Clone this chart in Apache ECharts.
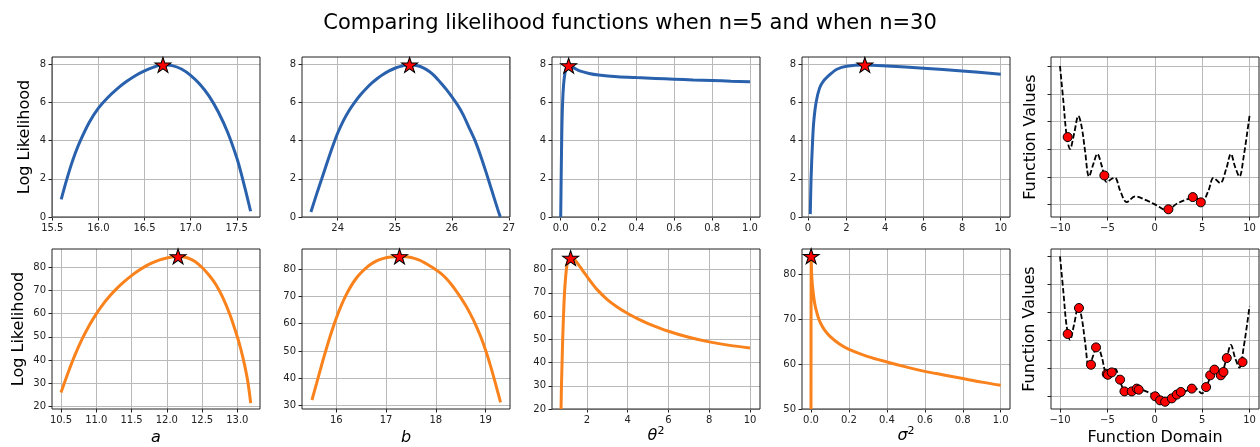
<!DOCTYPE html>
<html><head><meta charset="utf-8">
<script src="https://cdn.jsdelivr.net/npm/echarts@6/dist/echarts.min.js"></script>
<style>html,body{margin:0;padding:0;background:#fff}#c{width:1260px;height:447px}</style>
</head><body><div id="c"></div>
<script>
// ---------- data ----------
const titleText = 'Comparing likelihood functions when n=5 and when n=30';

// n = 5 log-likelihood curves  [parameter, logL]
const aN5 = [[15.597,0.92],[15.65,1.85],[15.70,2.65],[15.75,3.35],[15.80,3.95],[15.90,4.95],[16.0,5.7],[16.1,6.25],[16.2,6.7],[16.3,7.08],[16.4,7.4],[16.5,7.65],[16.6,7.85],[16.70,7.97],[16.8,7.93],[16.9,7.75],[17.0,7.42],[17.1,6.95],[17.2,6.33],[17.3,5.5],[17.4,4.45],[17.5,3.1],[17.55,2.25],[17.6,1.3],[17.65,0.3]];
const bN5 = [[23.53,0.26],[23.65,1.38],[23.72,2.0],[23.8,2.72],[23.9,3.6],[24.0,4.4],[24.1,5.05],[24.2,5.58],[24.3,6.02],[24.4,6.4],[24.5,6.73],[24.6,7.02],[24.7,7.27],[24.8,7.48],[24.9,7.65],[25.0,7.79],[25.1,7.89],[25.26,7.97],[25.4,7.92],[25.5,7.81],[25.6,7.63],[25.7,7.38],[25.8,7.05],[25.9,6.7],[26.0,6.3],[26.1,5.87],[26.2,5.35],[26.3,4.7],[26.4,4.05],[26.5,3.25],[26.6,2.35],[26.7,1.4],[26.8,0.45],[26.85,0.0]];
const thetaN5 = [[0.0,0.0],[0.003,2.5],[0.006,4.5],[0.010,6.0],[0.015,6.9],[0.022,7.5],[0.030,7.8],[0.042,7.93],[0.06,7.86],[0.08,7.75],[0.10,7.65],[0.15,7.52],[0.2,7.44],[0.3,7.35],[0.4,7.3],[0.5,7.26],[0.6,7.22],[0.7,7.18],[0.8,7.15],[0.9,7.11],[1.0,7.08]];
const sigmaN5 = [[0.12,0.15],[0.16,2.0],[0.24,4.0],[0.3,5.0],[0.42,6.0],[0.6,6.75],[0.81,7.13],[1.16,7.48],[1.5,7.74],[2.0,7.9],[2.95,7.96],[4.1,7.91],[6.0,7.79],[8.0,7.65],[10.0,7.48]];

// n = 30 log-likelihood curves
const aN30 = [[10.5,26.0],[10.6,34.5],[10.7,42.3],[10.8,49.1],[10.9,54.9],[11.0,59.9],[11.1,64.2],[11.2,67.9],[11.3,71.1],[11.4,73.9],[11.5,76.4],[11.6,78.6],[11.7,80.5],[11.8,82.0],[11.9,83.2],[12.0,84.0],[12.1,84.55],[12.16,84.7],[12.2,84.65],[12.3,84.0],[12.4,82.5],[12.5,79.9],[12.6,76.6],[12.7,72.4],[12.8,66.6],[12.9,59.2],[13.0,50.0],[13.05,44.7],[13.1,38.3],[13.15,30.5],[13.19,21.4]];
const bN30 = [[15.51,32.1],[15.6,38.0],[15.7,44.6],[15.8,50.9],[15.9,56.8],[16.0,62.1],[16.1,66.7],[16.2,70.6],[16.3,73.9],[16.4,76.6],[16.5,78.7],[16.6,80.4],[16.7,81.8],[16.8,82.9],[16.9,83.6],[17.0,84.1],[17.1,84.4],[17.27,84.6],[17.4,84.5],[17.5,84.2],[17.6,83.7],[17.7,83.0],[17.8,82.0],[17.9,80.9],[18.0,79.7],[18.1,78.4],[18.2,76.7],[18.3,74.6],[18.4,72.2],[18.5,69.5],[18.6,66.6],[18.7,63.3],[18.8,59.6],[18.9,55.3],[19.0,50.3],[19.1,44.5],[19.2,38.0],[19.3,31.2]];
const thetaN30 = [[0.73,20],[0.75,30],[0.78,40],[0.81,50],[0.85,60],[0.9,70],[0.99,80],[1.08,84],[1.2,85],[1.4,84.2],[1.6,82],[1.8,79.5],[2.0,77.1],[2.25,74.1],[2.5,71.4],[3.0,67.1],[3.5,63.8],[4.0,61.1],[4.5,58.8],[5.0,56.8],[6.0,53.5],[7.0,50.9],[8.0,48.9],[9.0,47.4],[10.0,46.3]];
const sigmaN30 = [[0.0,50],[0.0008,84.1],[0.003,80.5],[0.006,78.3],[0.01,76.6],[0.015,74.8],[0.02,73.4],[0.03,71.6],[0.04,70.2],[0.05,69.2],[0.07,67.7],[0.1,66.2],[0.15,64.5],[0.2,63.3],[0.3,61.7],[0.4,60.5],[0.5,59.4],[0.6,58.4],[0.7,57.6],[0.8,56.8],[0.9,56.0],[1.0,55.3]];

// maxima (stars)
const starsN5 = [[16.70,7.97],[25.26,7.97],[0.042,7.93],[2.95,7.97]];
const starsN30 = [[12.16,84.7],[17.27,84.6],[1.2,85.0],[0.0008,84.1]];

// underlying function (dashed) and samples (arbitrary value units)
const funcCurve = [[-10,100],[-9.65,75],[-9.3,50],[-8.94,40.2],[-8.52,51],[-8.06,64],[-7.71,56],[-7.36,39],[-6.94,20.3],[-6.48,29.4],[-6.06,36.6],[-5.6,28.2],[-5.07,16.3],[-4.54,18.7],[-4.19,19.4],[-3.66,10.3],[-2.96,1.9],[-2.08,6.0],[-0.85,3.1],[0.21,-0.5],[1.27,-4.1],[2.32,0.7],[3.38,3.8],[4.26,5.5],[4.96,1.9],[5.67,10.3],[6.2,19.4],[6.9,15.6],[7.54,25.8],[8.03,36.6],[8.49,27],[8.94,20.3],[9.37,34.2],[10,64.1]];
const samplesN5 = [[-9.19,48.8],[-5.32,21.1],[1.44,-3.3],[4.01,5.5],[4.86,1.7]];
const samplesN30 = [[-9.19,44.4],[-8.0,63],[-6.73,22.4],[-6.2,34.8],[-5.07,15.8],[-4.95,15.2],[-4.54,16.9],[-3.66,11.7],[-3.2,3.3],[-2.43,3.3],[-1.9,5.3],[-1.69,4.5],[0.04,-0.2],[0.56,-3.1],[1.09,-4.1],[1.8,-1.7],[2.32,1.0],[2.75,2.9],[3.91,5.3],[5.42,6.4],[5.85,14.8],[6.3,18.9],[6.97,14.8],[7.25,17.2],[7.6,27.2],[9.26,24.3]];

// tick values
const ticksA5 = [15.5,16.0,16.5,17.0,17.5];
const ticksB5 = [24,25,26,27];
const ticksUnit = [0.0,0.2,0.4,0.6,0.8,1.0];
const ticksSig5 = [0,2,4,6,8,10];
const ticksDomain = [-10,-5,0,5,10];
const ticksA30 = [10.5,11.0,11.5,12.0,12.5,13.0];
const ticksB30 = [16,17,18,19];
const ticksTheta30 = [2,4,6,8,10];
const ticksLL5 = [0,2,4,6,8];
const ticksLLa30 = [20,30,40,50,60,70,80];
const ticksLLb30 = [30,40,50,60,70,80];
const ticksLLs30 = [50,60,70,80];
const ticksFunc = [0,20,40,60,80,100];

// ---------- layout / style ----------
const BLUE = '#2961ad', ORANGE = '#f9821c';
const FONT = 'DejaVu Sans';
const GRIDC = '#b9b9b9';
const cols = [52, 302, 552, 802, 1051];
const rows = [57, 249];
const W = 208, H = 160;
const STAR = 'path://M50 0 L61.23 34.55 L97.55 34.55 L68.17 55.9 L79.39 90.45 L50 69.1 L20.61 90.45 L31.83 55.9 L2.45 34.55 L38.77 34.55 Z';

const nameRich = {
  i: {fontStyle: 'italic', fontSize: 16, fontFamily: FONT, color: '#000'},
  s: {fontSize: 11, fontFamily: FONT, color: '#000', verticalAlign: 'bottom', padding: [0, 0, 9, 0]}
};

const panels = [
  {r:0,c:0,xr:[15.497,17.752],yr:[0,8.38],xt:ticksA5,yt:ticksLL5,xd:1,line:aN5,star:starsN5[0],col:BLUE,yname:'Log Likelihood',yg:19},
  {r:0,c:1,xr:[23.374,27.02],yr:[0,8.38],xt:ticksB5,yt:ticksLL5,xd:0,line:bN5,star:starsN5[1],col:BLUE},
  {r:0,c:2,xr:[-0.046,1.053],yr:[0,8.38],xt:ticksUnit,yt:ticksLL5,xd:1,line:thetaN5,star:starsN5[2],col:BLUE},
  {r:0,c:3,xr:[-0.31,10.48],yr:[0,8.38],xt:ticksSig5,yt:ticksLL5,xd:0,line:sigmaN5,star:starsN5[3],col:BLUE},
  {r:0,c:4,xr:[-10.95,11.0],yr:[-8.85,106.5],xt:ticksDomain,yt:ticksFunc,xd:0,func:true,samples:samplesN5,yname:'Function Values',yg:12,noYLabel:true},
  {r:1,c:0,xr:[10.372,13.322],yr:[18.85,87.9],xt:ticksA30,yt:ticksLLa30,xd:1,line:aN30,star:starsN30[0],col:ORANGE,yname:'Log Likelihood',yg:25,xname:'{i|a}',xg:21},
  {r:1,c:1,xr:[15.31,19.49],yr:[28.8,87.3],xt:ticksB30,yt:ticksLLb30,xd:0,line:bN30,star:starsN30[1],col:ORANGE,xname:'{i|b}',xg:21},
  {r:1,c:2,xr:[0.286,10.49],yr:[20,88.9],xt:ticksTheta30,yt:ticksLLa30,xd:0,line:thetaN30,star:starsN30[2],col:ORANGE,xname:'{i|θ}{s|2}',xg:17},
  {r:1,c:3,xr:[-0.0475,1.049],yr:[50,85.7],xt:ticksUnit,yt:ticksLLs30,xd:1,line:sigmaN30,star:starsN30[3],col:ORANGE,xname:'{i|σ}{s|2}',xg:17},
  {r:1,c:4,xr:[-10.95,11.0],yr:[-9.3,105.25],xt:ticksDomain,yt:ticksFunc,xd:0,func:true,samples:samplesN30,yname:'Function Values',yg:13,xname:'Function Domain',xg:21,plainX:true,noYLabel:true}
];

const grid = [], xAxis = [], yAxis = [], series = [];
const fmt = (d) => (v) => Number(v).toFixed(d).replace('-', '\u2212');

panels.forEach((p, k) => {
  grid.push({left: cols[p.c], top: rows[p.r], width: W, height: H, show: true,
    borderColor: '#222', borderWidth: 1, backgroundColor: 'transparent', z: 6});
  xAxis.push({type: 'value', gridIndex: k, min: p.xr[0], max: p.xr[1],
    name: p.xname || '', nameLocation: 'middle', nameGap: p.xg || 20,
    nameTextStyle: p.plainX ? {fontSize: 16, fontFamily: FONT, color: '#000'} : {rich: nameRich},
    axisLine: {show: false, onZero: false},
    axisTick: {show: true, length: 3.5, customValues: p.xt, lineStyle: {color: '#222', width: 1}},
    axisLabel: {customValues: p.xt, formatter: fmt(p.xd), fontSize: 10, fontFamily: FONT, color: '#222', margin: 6},
    splitLine: {show: false}
  });
  yAxis.push({type: 'value', gridIndex: k, min: p.yr[0], max: p.yr[1],
    name: p.yname || '', nameLocation: 'middle', nameGap: p.yg || 20,
    nameTextStyle: {fontSize: 16, fontFamily: FONT, color: '#000'},
    axisLine: {show: false, onZero: false},
    axisTick: {show: true, length: 3.5, customValues: p.yt, lineStyle: {color: '#222', width: 1}},
    axisLabel: {show: !p.noYLabel, customValues: p.yt, formatter: fmt(0), fontSize: 10, fontFamily: FONT, color: '#222', margin: 6},
    splitLine: {show: false}
  });
  // grid lines at the tick values
  series.push({type: 'line', xAxisIndex: k, yAxisIndex: k, data: [], silent: true, z: 1,
    markLine: {z: 1, silent: true, symbol: ['none', 'none'], label: {show: false}, animation: false,
      lineStyle: {color: GRIDC, width: 1, type: 'solid'},
      emphasis: {disabled: true},
      data: p.xt.map(v => ({xAxis: v})).concat(p.yt.map(v => ({yAxis: v})))}});
  if (p.func) {
    series.push({type: 'line', xAxisIndex: k, yAxisIndex: k, data: funcCurve, showSymbol: false,
      smooth: 0.35, lineStyle: {color: '#000', width: 1.8, type: [5.5, 2.4]}, z: 10, silent: true});
    series.push({type: 'scatter', xAxisIndex: k, yAxisIndex: k, data: p.samples, symbol: 'circle', symbolSize: 9,
      itemStyle: {color: '#ff0000', borderColor: '#000', borderWidth: 1, opacity: 1}, z: 11, silent: true});
  } else {
    series.push({type: 'line', xAxisIndex: k, yAxisIndex: k, data: p.line, showSymbol: false,
      smooth: 0.3, lineStyle: {color: p.col, width: 3}, z: 10, silent: true});
    series.push({type: 'scatter', xAxisIndex: k, yAxisIndex: k, data: [p.star], symbol: STAR, symbolSize: [16, 15],
      itemStyle: {color: '#ff0000', borderColor: '#000', borderWidth: 1, opacity: 1}, z: 11, silent: true});
  }
});

const chart = echarts.init(document.getElementById('c'), null, {renderer: 'canvas'});
chart.setOption({
  animation: false,
  backgroundColor: '#fff',
  title: {text: titleText, left: 'center', top: 8,
    textStyle: {fontSize: 21, fontWeight: 'normal', fontFamily: FONT, color: '#000'}},
  grid, xAxis, yAxis, series
});
</script>
</body></html>
